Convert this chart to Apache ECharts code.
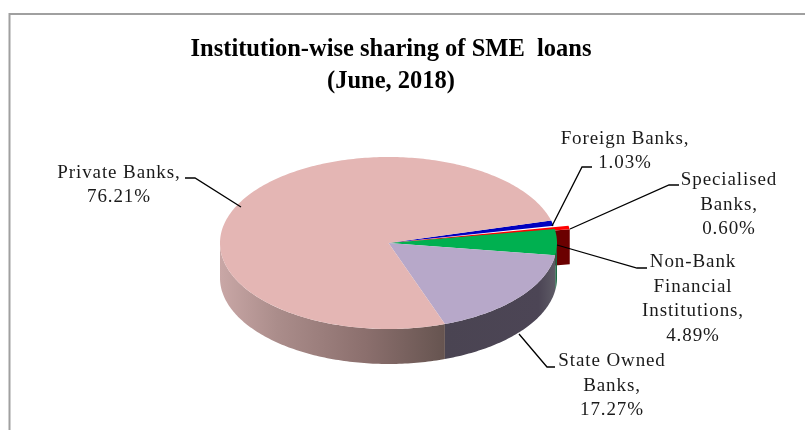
<!DOCTYPE html>
<html>
<head>
<meta charset="utf-8">
<style>html,body{margin:0;padding:0;background:#fff}#c{width:805px;height:430px}</style>
<script src="https://cdn.jsdelivr.net/npm/echarts@6/dist/echarts.min.js"></script>
</head>
<body>
<div id="c"></div>
<script>
// ---- data ----
const categories = ['Foreign Banks', 'Specialised Banks', 'Non-Bank Financial Institutions', 'State Owned Banks', 'Private Banks'];
const shares = [1.03, 0.60, 4.89, 17.27, 76.21];
const labelTexts = [
  'Foreign Banks,\n1.03%',
  'Specialised\nBanks,\n0.60%',
  'Non-Bank\nFinancial\nInstitutions,\n4.89%',
  'State Owned\nBanks,\n17.27%',
  'Private Banks,\n76.21%'
];
const titleText = 'Institution-wise sharing of SME  loans\n(June, 2018)';

// ---- styling / layout ----
const topColors = ['#0000c0', '#ff0000', '#00b050', '#b7a8c9', '#e4b6b4'];
const sideColors = [
  '#000060', '#6b0000', '#1f6b45',
  {type:'linear',x:0,y:0,x2:1,y2:0,colorStops:[{offset:0,color:'#4a4452'},{offset:0.85,color:'#4c4555'},{offset:1,color:'#5e5b66'}]},
  {type:'linear',x:0,y:0,x2:1,y2:0,colorStops:[{offset:0,color:'#c9a7a6'},{offset:0.25,color:'#ab8d8b'},{offset:0.65,color:'#8b6f6d'},{offset:1,color:'#665450'}]}
];
const pie = {cx: 388.5, cy: 243, rx: 168.5, ry: 86, depth: 35, startDeg: -15.2, redPop: 1.09, redDrop: 1.5, redIndex: 1};
const labelCenters = [[625,151],[729,205],[693,299],[612,386],[119,185]];
const leaders = [
  [[592,167],[582,167],[552,226]],
  [[679,185],[669,185],[570,229]],
  [[647,268],[637,268],[557,245]],
  [[555,367],[547,367],[519,334]],
  [[185,178],[195,178],[241,207]]
];
const labelTracking = '0.9px';

// the reference's data labels are set with wide tracking
const baseFillText = CanvasRenderingContext2D.prototype.fillText;
CanvasRenderingContext2D.prototype.fillText = function(t,x,y,m){
  this.letterSpacing = /bold/.test(this.font) ? '0px' : labelTracking;
  return m === undefined ? baseFillText.call(this,t,x,y) : baseFillText.call(this,t,x,y,m);
};

// ---- geometry helpers ----
const total = shares.reduce((a,b)=>a+b,0);
function range(i){
  let s = pie.startDeg;
  for(let k=0;k<i;k++) s += shares[k]/total*360;
  return [s, s + shares[i]/total*360];
}
function pt(deg, r, dy){
  const t = deg*Math.PI/180;
  return [pie.cx + pie.rx*r*Math.cos(t), pie.cy + pie.ry*r*Math.sin(t) + (dy||0)];
}
function arc(a,b,r,dy){
  const n = Math.max(2, Math.ceil(Math.abs(b-a)));
  const out = [];
  for(let i=0;i<=n;i++) out.push(pt(a+(b-a)*i/n, r, dy));
  return out;
}
function sideItem(params){
  const i = params.dataIndex;
  const [a0,b0] = range(i);
  if(i === pie.redIndex){
    const p0 = pt(b0,1,pie.redDrop), p1 = pt(b0,pie.redPop,pie.redDrop);
    return {type:'polygon', shape:{points:[p0,p1,[p1[0],p1[1]+pie.depth],[p0[0],p0[1]+pie.depth]]}, style:{fill:sideColors[i]}};
  }
  const a = Math.max(a0,0), b = Math.min(b0,180);
  if(b <= a) return {type:'group', children:[]};
  const pts = arc(a,b,1,0).concat(arc(b,a,1,pie.depth));
  return {type:'polygon', shape:{points:pts}, style:{fill:sideColors[i]}};
}
function topItem(params){
  const i = params.dataIndex;
  const [a,b] = range(i);
  const isRed = i === pie.redIndex;
  const pts = [[pie.cx,pie.cy]].concat(arc(a,b,isRed ? pie.redPop : 1, isRed ? pie.redDrop : 0));
  return {type:'polygon', shape:{points:pts}, style:{fill:topColors[i]}};
}
function labelItem(params){
  const i = params.dataIndex;
  return {type:'group', children:[
    {type:'polyline', shape:{points:leaders[i]}, style:{stroke:'#000',lineWidth:1.3,fill:null}},
    {type:'text', style:{text:labelTexts[i], x:labelCenters[i][0], y:labelCenters[i][1], align:'center', verticalAlign:'middle',
      font:'19px "Liberation Serif"', fill:'#1a1a1a', lineHeight:24.5}}
  ]};
}

const seriesData = shares.map((v,i)=>({name:categories[i], value:v}));
const chart = echarts.init(document.getElementById('c'), null, {renderer:'canvas', width:805, height:430});
chart.setOption({
  animation:false,
  backgroundColor:'#fff',
  tooltip:{show:false},
  title:{text:titleText, left:386, top:29, textAlign:'center',
    textStyle:{fontFamily:'Liberation Serif', fontWeight:'bold', fontSize:24.5, lineHeight:32, color:'#000'}},
  graphic:[
    {type:'polyline', shape:{points:[[9.5,430],[9.5,14],[805,14]]}, style:{stroke:'#a0a0a0',lineWidth:2,fill:null}, silent:true}
  ],
  series:[
    {type:'custom', coordinateSystem:'none', name:'sides', silent:true, clip:false, z:2, renderItem:sideItem, data:seriesData},
    {type:'custom', coordinateSystem:'none', name:'tops', silent:true, clip:false, z:3, renderItem:topItem, data:seriesData},
    {type:'custom', coordinateSystem:'none', name:'labels', silent:true, clip:false, z:4, renderItem:labelItem, data:seriesData}
  ]
});
</script>
</body>
</html>
